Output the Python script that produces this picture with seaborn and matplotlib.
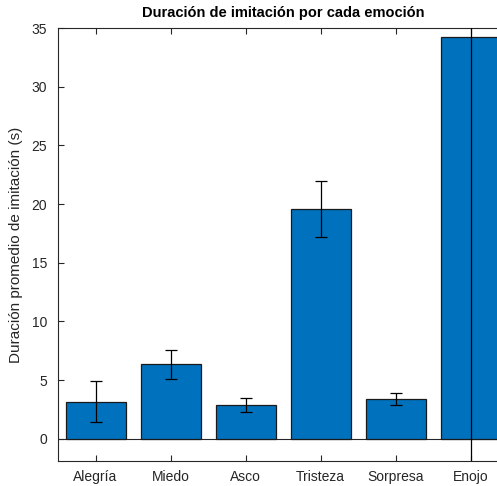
import numpy as np
import seaborn as sns
import matplotlib.pyplot as plt

# data
emociones = ['Alegría', 'Miedo', 'Asco', 'Tristeza', 'Sorpresa', 'Enojo']
duracion = [3.15, 6.33, 2.88, 19.6, 3.38, 34.25]
error = [1.75, 1.27, 0.62, 2.4, 0.52, 40.0]

sns.set_style('white')
plt.rcParams['font.family'] = ['Liberation Sans', 'DejaVu Sans']

fig = plt.figure(figsize=(4.97, 4.86), dpi=100)
ax = fig.add_axes([58 / 497, 25 / 486, 450 / 497, 433 / 486])

sns.barplot(x=emociones, y=duracion, color='#0072BD', saturation=1,
            width=0.8, edgecolor='#1a1a1a', linewidth=0.9, ax=ax, zorder=2)
ax.errorbar(np.arange(len(emociones)), duracion, yerr=error, fmt='none',
            ecolor='black', elinewidth=0.9, capsize=4, capthick=0.9, zorder=3)
ax.axhline(0, color='#262626', linewidth=0.8, zorder=1)

ax.set_xlim(-0.5, 5.5)
ax.set_ylim(-1.9, 35)
ax.set_yticks(range(0, 36, 5))

gris = '#262626'
for lado in ['left', 'top', 'bottom']:
    ax.spines[lado].set_visible(True)
    ax.spines[lado].set_color(gris)
    ax.spines[lado].set_linewidth(0.8)
ax.spines['right'].set_visible(False)
ax.tick_params(direction='in', length=4, width=0.8, color=gris,
               labelcolor=gris, labelsize=10, top=True, left=True, bottom=True)
ax.tick_params(axis='x', pad=6.5)
ax.tick_params(axis='y', pad=8)

ax.set_title('Duración de imitación por cada emoción', fontsize=10.5,
             fontweight='bold', color='black', pad=8)
ax.set_ylabel('Duración promedio de imitación (s)', fontsize=11, color=gris,
              labelpad=6)
ax.set_xlabel('')

fig.savefig('out.png', dpi=100)
